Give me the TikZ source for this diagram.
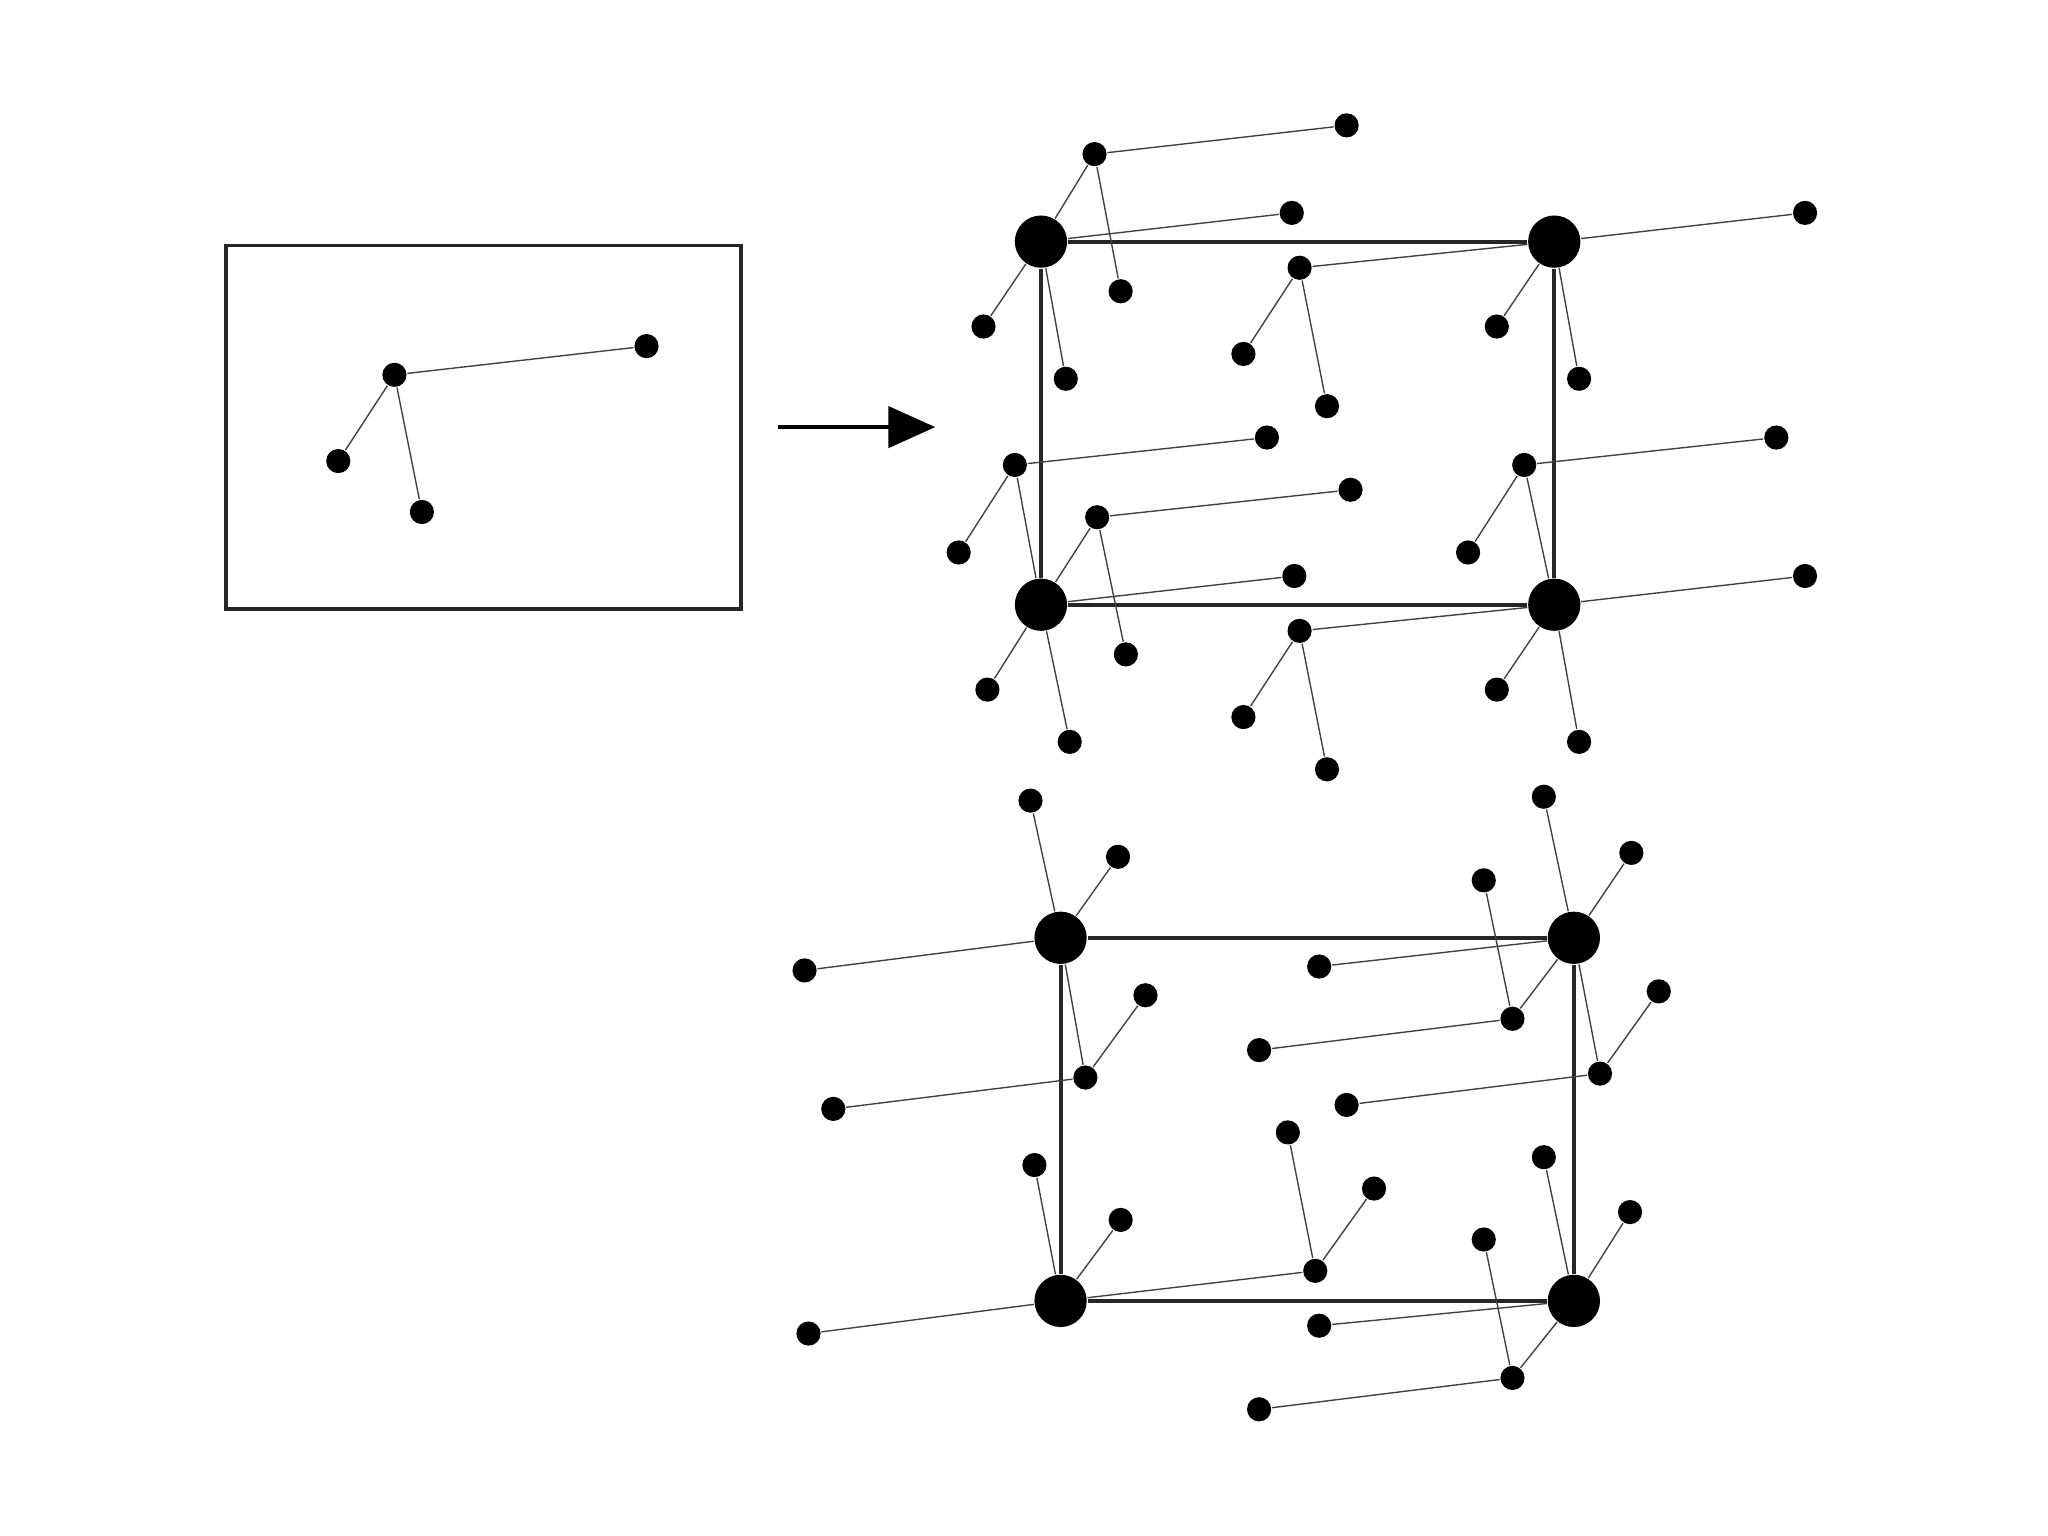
\documentclass[tikz,border=0pt]{standalone}
\usetikzlibrary{arrows.meta}

\begin{document}
\begin{tikzpicture}[
    x=0.01cm, y=-0.01cm,
    atom/.style={circle, fill=black, inner sep=0pt, minimum size=0.185cm},
    bigatom/.style={circle, fill=black, inner sep=0pt, minimum size=0.40cm},
    bond/.style={draw=black!75, line width=0.3pt},
    cell/.style={draw=black!85, line width=0.85pt},
  ]
  \useasboundingbox (0,0) rectangle (1568,1176);

  % single motif in the box
  \draw[cell] (173,188) rectangle (567,466);
  \foreach \name/\x/\y in {mc/302/287, ml/495/265, ma/259/353, mb/323/392}
    \node[atom] (\name) at (\x,\y) {};
  \foreach \from/\to in {mc/ml, mc/ma, mc/mb}
    \draw[bond] (\from) -- (\to);

  \coordinate (arrowstart) at (596,327);
  \coordinate (arrowend) at (716,327);
  \draw[-{Triangle[length=10.2pt, width=9pt]}, line width=0.75pt] (arrowstart) -- (arrowend);

  % upper cell
  \foreach \name/\x/\y in {ta/797/185, tb/1190/185, tc/797/463, td/1190/463}
    \node[bigatom] (\name) at (\x,\y) {};
  \foreach \name/\x/\y in {
      ta1/989/163, ta2/753/250, ta3/816/290,
      tb1/1382/163, tb2/1146/250, tb3/1209/290,
      tc1/991/441, tc2/756/528, tc3/819/568,
      td1/1382/441, td2/1146/528, td3/1209/568,
      te/838/118, te1/1031/96, te3/858/223,
      tf/995/205, tf2/952/271, tf3/1016/311,
      tg/777/356, tg1/970/335, tg2/734/423,
      th/840/396, th1/1034/375, th3/862/501,
      ti/1167/356, ti1/1360/335, ti2/1124/423,
      tj/995/483, tj2/952/549, tj3/1016/589}
    \node[atom] (\name) at (\x,\y) {};
  \foreach \from/\to in {ta/tb, tb/td, td/tc, tc/ta}
    \draw[cell] (\from) -- (\to);
  \foreach \from/\to in {
      ta/ta1, ta/ta2, ta/ta3, tb/tb1, tb/tb2, tb/tb3,
      tc/tc1, tc/tc2, tc/tc3, td/td1, td/td2, td/td3,
      te/te1, te/ta, te/te3, tf/tb, tf/tf2, tf/tf3,
      tg/tg1, tg/tg2, tg/tc, th/th1, th/tc, th/th3,
      ti/ti1, ti/ti2, ti/td, tj/td, tj/tj2, tj/tj3}
    \draw[bond] (\from) -- (\to);

  % lower cell
  \foreach \name/\x/\y in {ba/812/718, bb/1205/718, bc/812/996, bd/1205/996}
    \node[bigatom] (\name) at (\x,\y) {};
  \foreach \name/\x/\y in {
      ba1/616/743, ba2/856/656, ba3/789/613,
      bb1/1010/740, bb2/1249/653, bb3/1182/610,
      bc1/619/1021, bc2/858/934, bc3/792/892,
      bd1/1010/1015, bd2/1248/928, bd3/1182/886,
      be/1158/780, be1/964/804, be3/1136/674,
      bf/831/825, bf1/638/849, bf2/877/762,
      bg/1225/822, bg1/1031/846, bg2/1270/759,
      bh/1007/973, bh2/1052/910, bh3/986/867,
      bi/1158/1055, bi1/964/1079, bi3/1136/949}
    \node[atom] (\name) at (\x,\y) {};
  \foreach \from/\to in {ba/bb, bb/bd, bd/bc, bc/ba}
    \draw[cell] (\from) -- (\to);
  \foreach \from/\to in {
      ba/ba1, ba/ba2, ba/ba3, bb/bb1, bb/bb2, bb/bb3,
      bc/bc1, bc/bc2, bc/bc3, bd/bd1, bd/bd2, bd/bd3,
      be/be1, be/bb, be/be3, bf/bf1, bf/bf2, bf/ba,
      bg/bg1, bg/bg2, bg/bb, bh/bc, bh/bh2, bh/bh3,
      bi/bi1, bi/bd, bi/bi3}
    \draw[bond] (\from) -- (\to);
\end{tikzpicture}
\end{document}
